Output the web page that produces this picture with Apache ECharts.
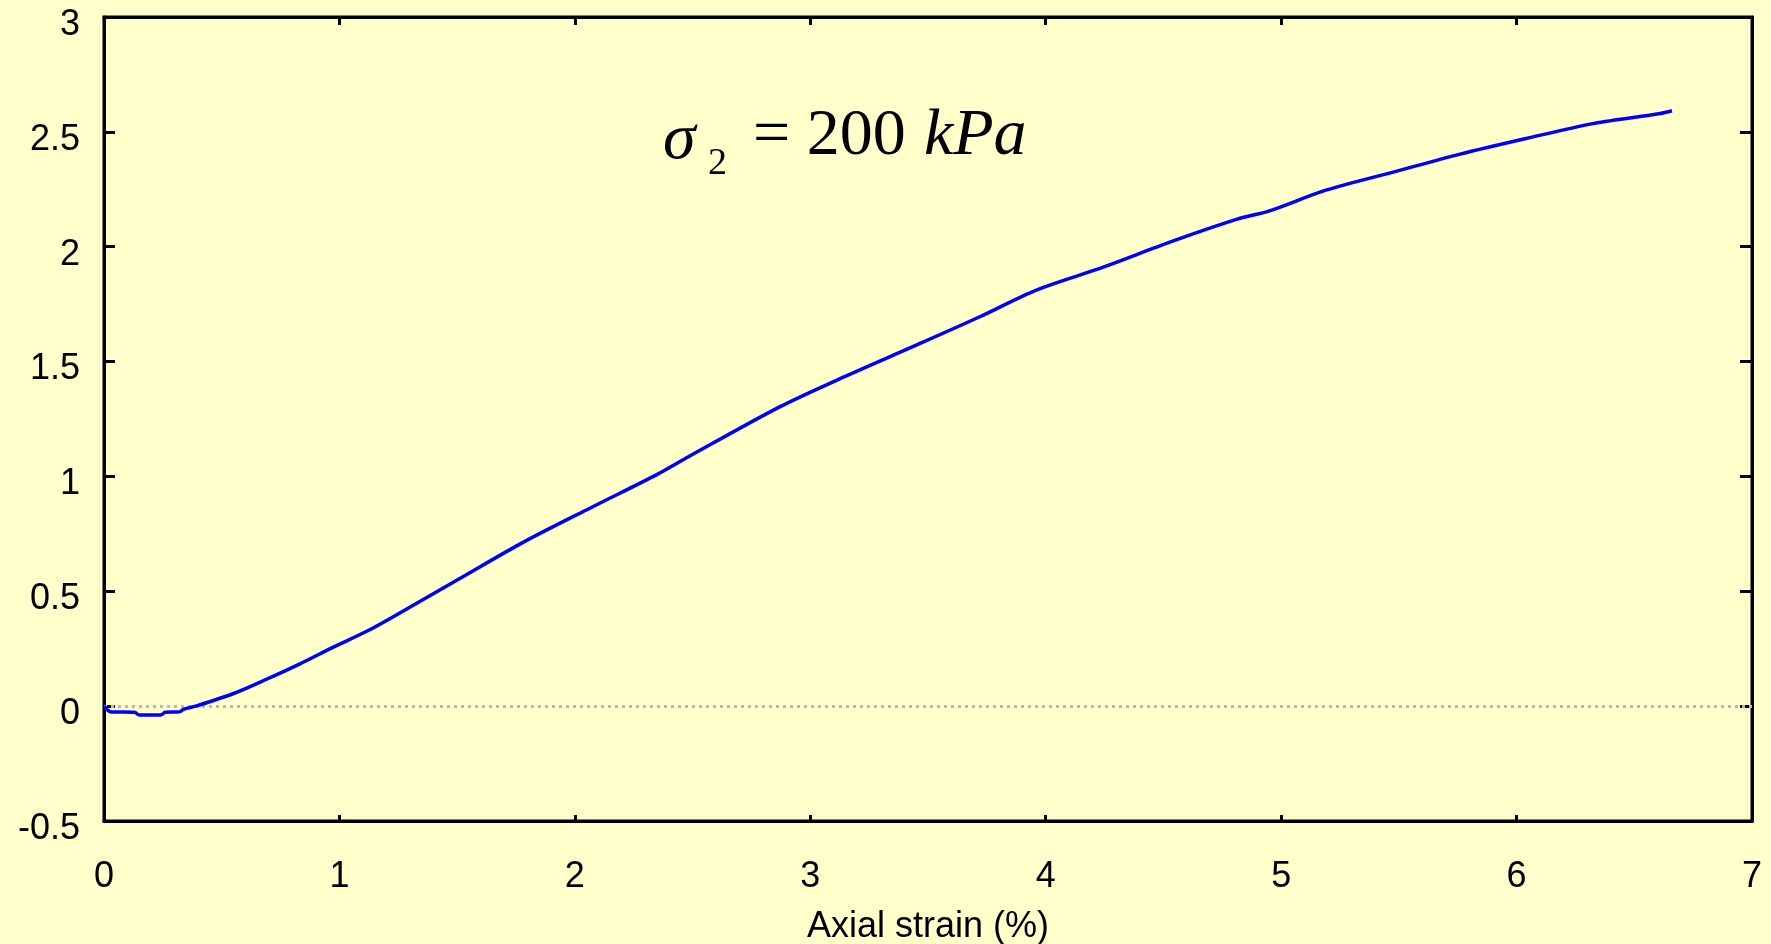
<!DOCTYPE html>
<html>
<head>
<meta charset="utf-8">
<script src="https://cdn.jsdelivr.net/npm/echarts@6/dist/echarts.min.js"></script>
<style>
html,body{margin:0;padding:0;background:#FFFFCC;}
#chart{width:1771px;height:944px;}
</style>
</head>
<body>
<div id="chart"></div>
<script>
const strainX = [0, 0.03, 0.13, 0.15, 0.24, 0.26, 0.32, 0.34, 0.39, 0.55, 0.69, 0.83, 0.97, 1.12, 1.26, 1.5, 1.78, 2.07, 2.35, 2.49, 2.87, 3.16, 3.44, 3.72, 3.96, 4.25, 4.53, 4.81, 4.95, 5.19, 5.48, 5.76, 6.04, 6.33, 6.61, 6.66];
const valueY = [0, -0.025, -0.027, -0.039, -0.039, -0.027, -0.025, -0.013, 0.0, 0.055, 0.117, 0.183, 0.255, 0.328, 0.408, 0.549, 0.713, 0.865, 1.009, 1.09, 1.303, 1.441, 1.567, 1.695, 1.811, 1.913, 2.021, 2.119, 2.156, 2.246, 2.326, 2.403, 2.471, 2.537, 2.58, 2.592];
const xAxisTitle = 'Axial strain (%)';
const annotation = { sym: 'σ', sub: '2', eq: '= 200 ', unit: 'kPa' };

const chart = echarts.init(document.getElementById('chart'));
const FONT = '"Liberation Sans", Arial, sans-serif';
const axisLineStyle = { color: '#000', width: 3 };

const option = {
  backgroundColor: '#FFFFCC',
  animation: false,
  grid: { left: 104, right: 19, top: 17, bottom: 123, outerBoundsMode: 'none', containLabel: false,
    show: true, borderColor: '#000', borderWidth: 3, backgroundColor: 'transparent' },
  xAxis: [
    { type: 'value', min: 0, max: 7, interval: 1, position: 'bottom',
      axisLine: { show: true, onZero: false, lineStyle: axisLineStyle },
      axisTick: { show: true, inside: true, length: 6, lineStyle: { color: '#000', width: 3 } },
      axisLabel: { margin: 38, fontFamily: FONT, fontSize: 36, color: '#000' },
      splitLine: { show: false },
      name: xAxisTitle, nameLocation: 'middle', nameGap: 88,
      nameTextStyle: { fontFamily: FONT, fontSize: 36, color: '#000' } },
    { type: 'value', min: 0, max: 7, interval: 1, position: 'top',
      axisLine: { show: true, onZero: false, lineStyle: axisLineStyle },
      axisTick: { show: true, inside: true, length: 8, lineStyle: { color: '#000', width: 3 } },
      axisLabel: { show: false }, splitLine: { show: false } }
  ],
  yAxis: [
    { type: 'value', min: -0.5, max: 3, interval: 0.5, position: 'left',
      axisLine: { show: true, onZero: false, lineStyle: axisLineStyle },
      axisTick: { show: true, inside: true, length: 11, lineStyle: { color: '#000', width: 3 } },
      axisLabel: { margin: 24, color: '#000',
        formatter: v => '{a|' + v + '}',
        rich: { a: { fontFamily: FONT, fontSize: 36, color: '#000', padding: [16, 0, 0, 0] } } },
      splitLine: { show: false } },
    { type: 'value', min: -0.5, max: 3, interval: 0.5, position: 'right',
      axisLine: { show: true, onZero: false, lineStyle: axisLineStyle },
      axisTick: { show: true, inside: true, length: 12, lineStyle: { color: '#000', width: 3 } },
      axisLabel: { show: false }, splitLine: { show: false } }
  ],
  series: [{
    type: 'line',
    xAxisIndex: 0, yAxisIndex: 0,
    data: strainX.map((x, i) => [x, valueY[i]]),
    showSymbol: false,
    smooth: 0.3,
    lineStyle: { color: '#0000FF', width: 3.5 },
    z: 5,
    markLine: {
      silent: true, symbol: 'none', label: { show: false },
      lineStyle: { color: '#B8B8B8', type: [3, 4], width: 3 },
      data: [{ yAxis: 0 }],
      z: 1
    }
  }],
  graphic: [
    { type: 'text', left: 663, top: 108, style: { text: annotation.sym, font: 'italic 66px "Liberation Serif", "Times New Roman", serif', fill: '#000' } },
    { type: 'text', left: 708, top: 145, style: { text: annotation.sub, font: '38px "Liberation Serif", "Times New Roman", serif', fill: '#000' } },
    { type: 'text', left: 753, top: 104, style: { text: annotation.eq, font: '66px "Liberation Serif", "Times New Roman", serif', fill: '#000' } },
    { type: 'text', left: 924, top: 104, style: { text: annotation.unit, font: 'italic 66px "Liberation Serif", "Times New Roman", serif', fill: '#000' } }
  ]
};
chart.setOption(option);
</script>
</body>
</html>
